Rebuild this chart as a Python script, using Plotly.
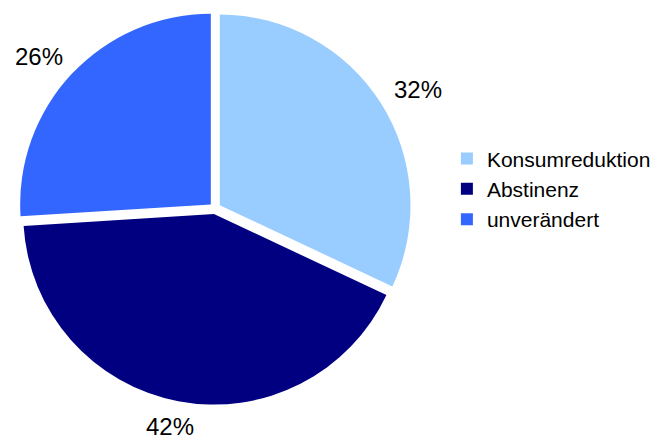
import math
import plotly.graph_objects as go

categories = ["Konsumreduktion", "Abstinenz", "unverändert"]
values = [32, 42, 26]
colors = ["#99CCFF", "#000080", "#3366FF"]

W, H = 659, 437
PULL = 0.03
DOM_X = [0.0161, 0.6121]
DOM_Y = [0.0922, 0.9911]

fig = go.Figure(go.Pie(
    labels=categories,
    values=values,
    sort=False,
    direction="clockwise",
    rotation=0,
    marker=dict(colors=colors, line=dict(width=0)),
    pull=[PULL] * len(values),
    textinfo="none",
    textposition="none",
    domain=dict(x=DOM_X, y=DOM_Y),
    showlegend=True,
    hovertemplate="%{label}: %{percent:.0%}<extra></extra>",
))

# percentage labels placed outside each slice, from the slice angles
cx = W * (DOM_X[0] + DOM_X[1]) / 2
cy = H * (1 - (DOM_Y[0] + DOM_Y[1]) / 2)
r = min(W * (DOM_X[1] - DOM_X[0]), H * (DOM_Y[1] - DOM_Y[0])) / 2 / (1 + PULL)
total = sum(values)
cum = 0
for v in values:
    mid = (cum + v / 2) / total * 2 * math.pi
    cum += v
    ux, uy = math.sin(mid), -math.cos(mid)
    lx = cx + (r * 1.133 + 25) * ux
    ly = cy + (r * 1.133 + 6) * uy
    fig.add_annotation(
        x=lx / W, y=1 - ly / H, xref="paper", yref="paper",
        xanchor="center", yanchor="middle", showarrow=False,
        text=f"{round(v / total * 100)}%",
        font=dict(family="Liberation Sans, Arial", size=24, color="#000000"),
    )

fig.update_layout(
    width=W, height=H,
    margin=dict(l=0, r=0, t=0, b=0),
    paper_bgcolor="white",
    plot_bgcolor="white",
    legend=dict(
        x=0.666, y=0.586, xanchor="left", yanchor="middle",
        font=dict(family="Liberation Sans, Arial", size=21, color="#000000"),
        itemwidth=30,
        tracegroupgap=0,
    ),
)

fig.write_html("out.html")
